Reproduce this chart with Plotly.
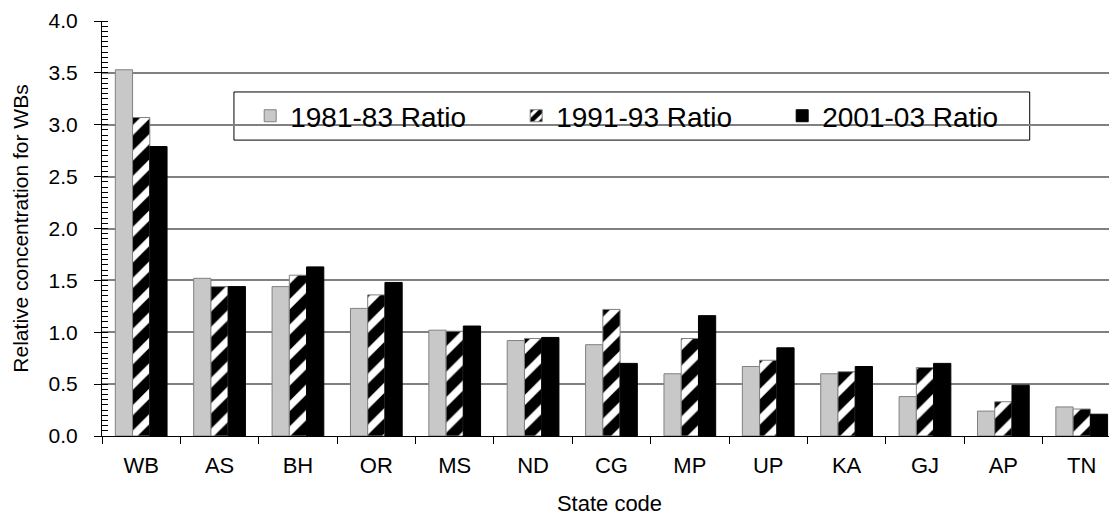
import plotly.graph_objects as go

states = ["WB", "AS", "BH", "OR", "MS", "ND", "CG", "MP", "UP", "KA", "GJ", "AP", "TN"]
ratio_1981_83 = [3.53, 1.52, 1.44, 1.23, 1.02, 0.92, 0.88, 0.60, 0.67, 0.60, 0.38, 0.24, 0.28]
ratio_1991_93 = [3.07, 1.44, 1.55, 1.36, 1.01, 0.94, 1.22, 0.94, 0.73, 0.62, 0.66, 0.33, 0.26]
ratio_2001_03 = [2.79, 1.44, 1.63, 1.48, 1.06, 0.95, 0.70, 1.16, 0.85, 0.67, 0.70, 0.49, 0.21]
series_names = ["1981-83 Ratio", "1991-93 Ratio", "2001-03 Ratio"]

FONT = "Liberation Sans, Arial, sans-serif"

fig = go.Figure()
fig.add_trace(go.Bar(
    x=states, y=ratio_1981_83, name=series_names[0],
    marker=dict(color="#c8c8c8", line=dict(color="#808080", width=1)),
))
fig.add_trace(go.Bar(
    x=states, y=ratio_1991_93, name=series_names[1],
    marker=dict(color="white", line=dict(color="#808080", width=1),
                pattern=dict(shape="/", fgcolor="black", bgcolor="white",
                             fgopacity=1, size=18, solidity=0.6)),
))
fig.add_trace(go.Bar(
    x=states, y=ratio_2001_03, name=series_names[2],
    marker=dict(color="black", line=dict(color="black", width=1)),
))

# legend frame (drawn between grid and bars so the grid line is hidden behind it)
fig.add_shape(type="rect", xref="paper", yref="paper",
              x0=0.130, x1=0.914, y0=0.713, y1=0.829,
              fillcolor="white", line=dict(color="black", width=1), layer="between")

fig.update_layout(
    width=1109, height=508,
    margin=dict(l=94, r=0, t=13, b=80),
    paper_bgcolor="white", plot_bgcolor="white",
    barmode="group", bargap=0.34, bargroupgap=0,
    font=dict(family=FONT, color="black", size=20),
    showlegend=True,
    legend=dict(
        orientation="h", x=0.146, y=0.771, xanchor="left", yanchor="middle",
        bgcolor="rgba(0,0,0,0)", borderwidth=0,
        font=dict(size=28, family=FONT),
        entrywidth=221, entrywidthmode="pixels",
        traceorder="normal",
    ),
)
fig.update_xaxes(
    range=[-0.5, 12.45],
    showline=True, linecolor="black", linewidth=1,
    ticks="outside", tickson="boundaries", ticklen=7, tickcolor="black",
    tickfont=dict(size=22), ticklabelstandoff=10,
    title=dict(text="State code", font=dict(size=22), standoff=20),
    showgrid=False,
)
fig.update_yaxes(
    range=[0, 4], dtick=0.5, tickformat=".1f",
    showline=True, linecolor="black", linewidth=1,
    ticks="outside", ticklen=7, tickcolor="black",
    tickfont=dict(size=21), ticklabelstandoff=12,
    showgrid=True, gridcolor="#808080", gridwidth=1.5,
    minor=dict(dtick=0.05, ticks="inside", ticklen=6, tickcolor="black", showgrid=False),
    title=dict(text="Relative concentration for WBs", font=dict(size=21), standoff=14),
    zeroline=False,
)

fig.write_html("out.html")
